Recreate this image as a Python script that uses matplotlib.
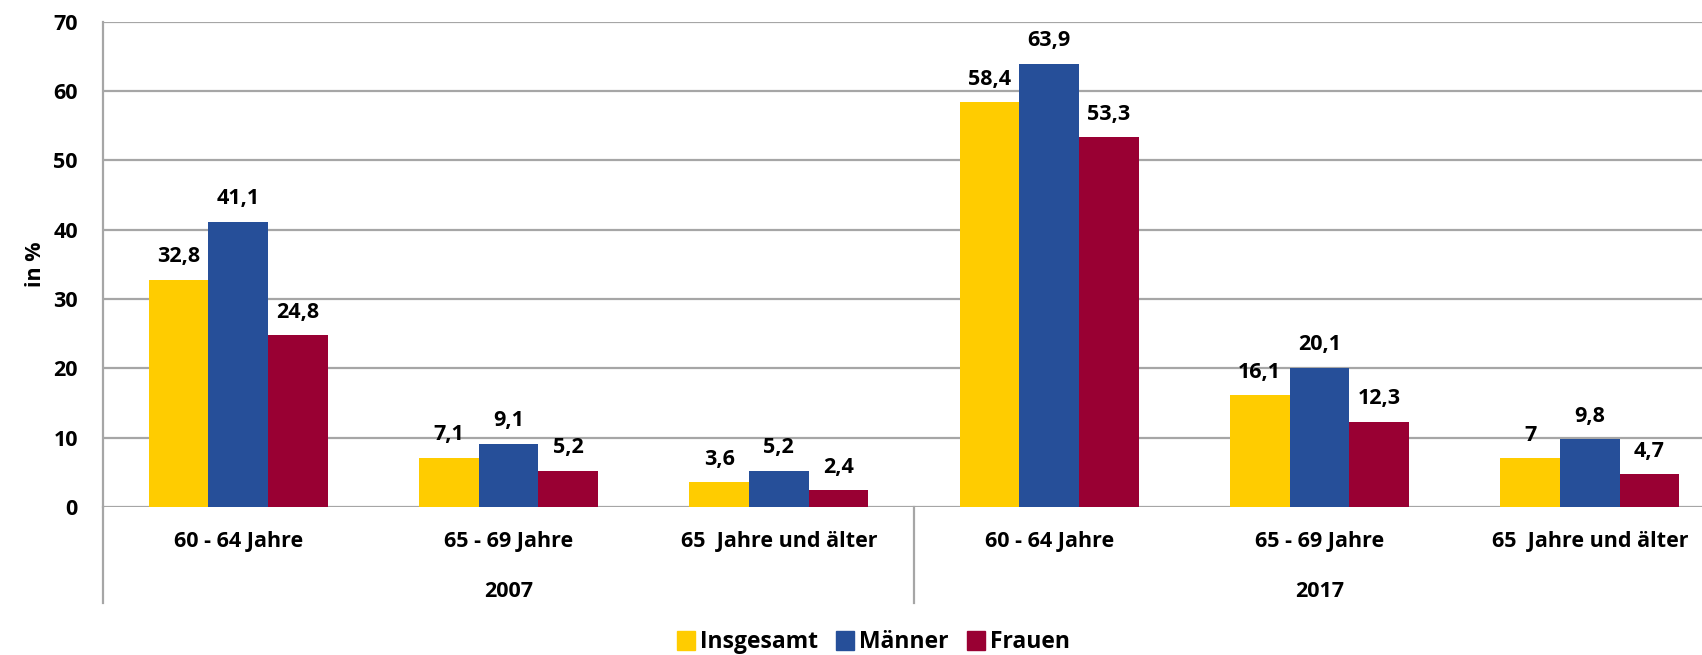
import numpy as np
import matplotlib.pyplot as plt
import matplotlib.transforms as mtransforms
from matplotlib.patches import Patch

plt.rcParams['font.family'] = ['Open Sans', 'DejaVu Sans']
plt.rcParams['font.weight'] = 'bold'

# data
categories = ['60 - 64 Jahre', '65 - 69 Jahre', '65  Jahre und älter',
              '60 - 64 Jahre', '65 - 69 Jahre', '65  Jahre und älter']
years = ['2007', '2017']
series = ['Insgesamt', 'Männer', 'Frauen']
insgesamt = [32.8, 7.1, 3.6, 58.4, 16.1, 7.0]
maenner = [41.1, 9.1, 5.2, 63.9, 20.1, 9.8]
frauen = [24.8, 5.2, 2.4, 53.3, 12.3, 4.7]
labels_txt = [['32,8', '7,1', '3,6', '58,4', '16,1', '7'],
              ['41,1', '9,1', '5,2', '63,9', '20,1', '9,8'],
              ['24,8', '5,2', '2,4', '53,3', '12,3', '4,7']]
colors = ['#FFCC00', '#264F99', '#990033']

fig = plt.figure(figsize=(17.02, 6.55), dpi=100)
ax = fig.add_axes([0.0605, 0.226, 0.953, 0.741])

x = np.arange(len(categories))
w = 0.221
for i, vals in enumerate([insgesamt, maenner, frauen]):
    pos = x + (i - 1) * w
    ax.bar(pos, vals, width=w, color=colors[i], zorder=3)
    for px, v, t in zip(pos, vals, labels_txt[i]):
        ax.annotate(t, (px, v), xytext=(0, 9), textcoords='offset points',
                    ha='center', va='bottom', fontsize=15.5, fontweight='bold')

ax.set_xlim(-0.5, len(categories) - 0.5)
ax.set_ylim(0, 70)
ax.set_yticks(range(0, 71, 10))
ax.yaxis.grid(True, color='#A6A6A6', linewidth=1.6, zorder=0)
ax.set_axisbelow(True)
for s in ['top', 'right', 'bottom']:
    ax.spines[s].set_visible(False)
ax.spines['left'].set_color('#A6A6A6')
ax.spines['left'].set_linewidth(1.6)
ax.tick_params(axis='y', length=0, labelsize=15.5, pad=18)
ax.tick_params(axis='x', length=0, labelsize=15.5, pad=17)
ax.set_xticks(x)
ax.set_xticklabels(categories)
ax.set_ylabel('in %', fontsize=15.5, fontweight='bold', labelpad=5)

# group separators and year labels below the axis
trans = mtransforms.blended_transform_factory(ax.transData, ax.transAxes)
ax.plot([-0.5, -0.5], [0, -0.198], color='#A6A6A6', lw=1.6, transform=trans, clip_on=False)
ax.plot([2.5, 2.5], [0, -0.198], color='#A6A6A6', lw=1.6, transform=trans, clip_on=False)
for j, yr in enumerate(years):
    ax.text(1 + 3 * j, -0.175, yr, transform=trans, ha='center', va='center',
            fontsize=15.5, fontweight='bold')

handles = [Patch(color=c) for c in colors]
fig.legend(handles, series, loc='lower center', bbox_to_anchor=(0.513, -0.03), ncol=3,
           frameon=False, handlelength=0.8, handleheight=0.9,
           handletextpad=0.2, columnspacing=0.8, prop={'weight': 'bold', 'size': 16.5})

fig.savefig('out.png', dpi=100)
